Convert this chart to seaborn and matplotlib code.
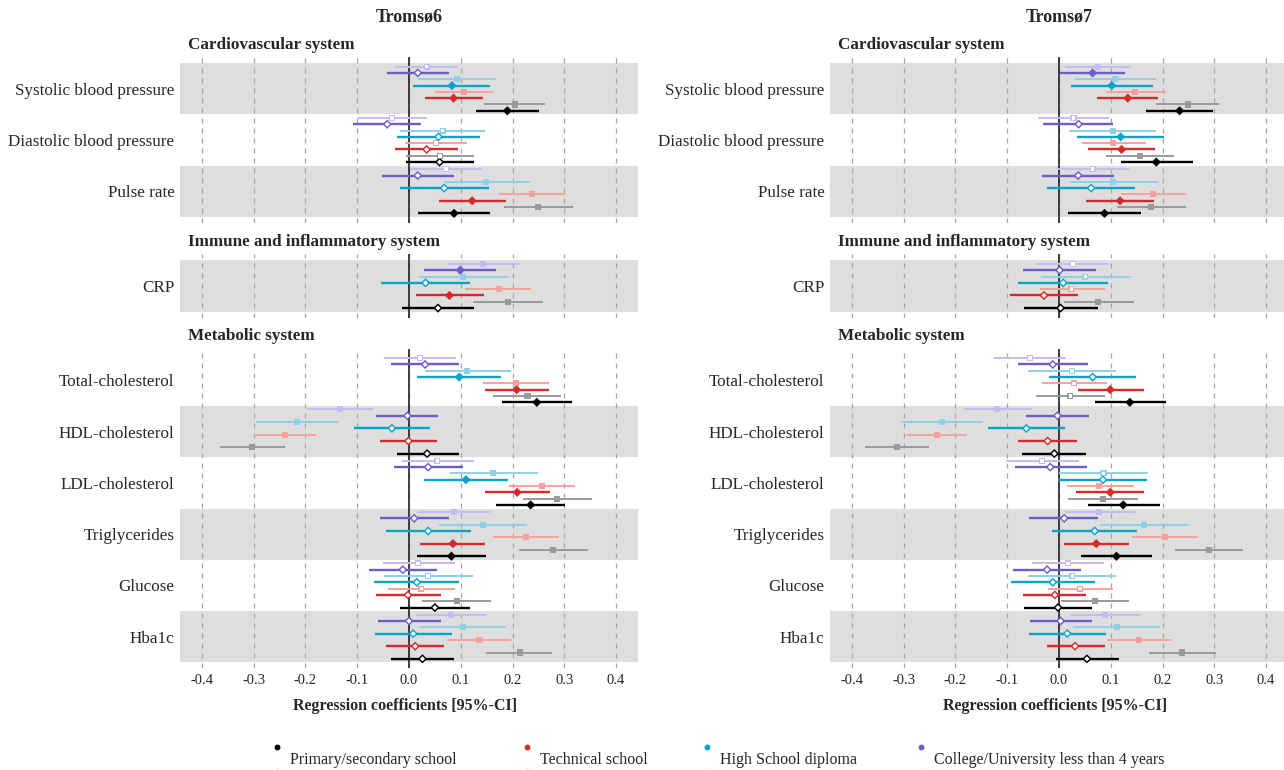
import numpy as np
import pandas as pd
import matplotlib
matplotlib.use("Agg")
import matplotlib.pyplot as plt
import seaborn as sns

# =========================
# Data
# =========================
outcomes = ["Systolic blood pressure", "Diastolic blood pressure", "Pulse rate",
            "CRP",
            "Total-cholesterol", "HDL-cholesterol", "LDL-cholesterol",
            "Triglycerides", "Glucose", "Hba1c"]
sections = [("Cardiovascular system", outcomes[0:3]),
            ("Immune and inflammatory system", outcomes[3:4]),
            ("Metabolic system", outcomes[4:10])]
education = ["Primary/secondary school", "Technical school",
             "High School diploma", "College/University less than 4 years"]
series = ["black", "gray", "red", "pink", "teal", "lightblue", "purple", "lavender"]

# --- Tromsø6 ---
t6_black_est = [0.190, 0.059, 0.087, 0.056, 0.247, 0.035, 0.235, 0.082, 0.050, 0.026]
t6_black_lo = [0.130, -0.006, 0.018, -0.014, 0.180, -0.024, 0.168, 0.015, -0.017, -0.034]
t6_black_hi = [0.251, 0.125, 0.157, 0.126, 0.315, 0.096, 0.302, 0.149, 0.117, 0.087]
t6_black_sig = [1, 0, 1, 0, 1, 0, 1, 1, 0, 0]

t6_gray_est = [0.204, 0.060, 0.250, 0.191, 0.229, -0.303, 0.286, 0.278, 0.092, 0.214]
t6_gray_lo = [0.145, -0.005, 0.183, 0.123, 0.163, -0.365, 0.220, 0.212, 0.026, 0.149]
t6_gray_hi = [0.263, 0.125, 0.317, 0.258, 0.294, -0.240, 0.354, 0.345, 0.158, 0.277]
t6_gray_sig = [1, 0, 1, 1, 1, 1, 1, 1, 1, 1]

t6_red_est = [0.086, 0.034, 0.122, 0.078, 0.208, -0.001, 0.209, 0.085, -0.002, 0.012]
t6_red_lo = [0.030, -0.027, 0.058, 0.013, 0.146, -0.057, 0.147, 0.022, -0.063, -0.045]
t6_red_hi = [0.143, 0.095, 0.187, 0.144, 0.271, 0.055, 0.272, 0.147, 0.061, 0.068]
t6_red_sig = [1, 0, 1, 1, 1, 0, 1, 1, 0, 0]

t6_pink_est = [0.106, 0.052, 0.237, 0.173, 0.206, -0.239, 0.257, 0.226, 0.024, 0.135]
t6_pink_lo = [0.050, -0.008, 0.173, 0.108, 0.143, -0.299, 0.194, 0.163, -0.041, 0.074]
t6_pink_hi = [0.163, 0.113, 0.302, 0.236, 0.270, -0.180, 0.321, 0.290, 0.088, 0.197]
t6_pink_sig = [1, 0, 1, 1, 1, 1, 1, 1, 0, 1]

t6_teal_est = [0.083, 0.057, 0.068, 0.032, 0.097, -0.033, 0.110, 0.037, 0.015, 0.008]
t6_teal_lo = [0.008, -0.024, -0.017, -0.054, 0.016, -0.106, 0.029, -0.045, -0.067, -0.066]
t6_teal_hi = [0.157, 0.137, 0.154, 0.118, 0.178, 0.041, 0.192, 0.119, 0.097, 0.083]
t6_teal_sig = [1, 0, 0, 0, 1, 0, 1, 0, 0, 0]

t6_lightblue_est = [0.092, 0.065, 0.148, 0.105, 0.112, -0.216, 0.163, 0.143, 0.037, 0.105]
t6_lightblue_lo = [0.018, -0.017, 0.068, 0.019, 0.030, -0.296, 0.079, 0.058, -0.048, 0.021]
t6_lightblue_hi = [0.168, 0.146, 0.234, 0.192, 0.197, -0.135, 0.249, 0.228, 0.123, 0.188]
t6_lightblue_sig = [1, 0, 1, 1, 1, 1, 1, 1, 0, 1]

t6_purple_est = [0.017, -0.042, 0.017, 0.099, 0.031, -0.003, 0.037, 0.010, -0.012, 0.000]
t6_purple_lo = [-0.042, -0.108, -0.052, 0.029, -0.035, -0.063, -0.029, -0.056, -0.077, -0.060]
t6_purple_hi = [0.078, 0.023, 0.086, 0.168, 0.096, 0.057, 0.104, 0.077, 0.054, 0.061]
t6_purple_sig = [0, 0, 0, 1, 0, 0, 0, 0, 0, 0]

t6_lavender_est = [0.034, -0.033, 0.071, 0.143, 0.021, -0.134, 0.055, 0.087, 0.018, 0.081]
t6_lavender_lo = [-0.027, -0.099, 0.002, 0.073, -0.048, -0.198, -0.014, 0.018, -0.051, 0.014]
t6_lavender_hi = [0.095, 0.034, 0.141, 0.214, 0.091, -0.069, 0.126, 0.157, 0.088, 0.148]
t6_lavender_sig = [0, 0, 0, 1, 0, 1, 0, 1, 0, 1]

# --- Tromsø7 ---
t7_black_est = [0.233, 0.188, 0.088, 0.003, 0.137, -0.009, 0.124, 0.111, -0.002, 0.054]
t7_black_lo = [0.169, 0.119, 0.018, -0.068, 0.069, -0.071, 0.056, 0.043, -0.068, -0.005]
t7_black_hi = [0.298, 0.258, 0.158, 0.075, 0.206, 0.053, 0.195, 0.179, 0.064, 0.115]
t7_black_sig = [1, 1, 1, 0, 1, 0, 1, 1, 0, 0]

t7_gray_est = [0.249, 0.156, 0.178, 0.076, 0.022, -0.313, 0.085, 0.290, 0.070, 0.237]
t7_gray_lo = [0.188, 0.091, 0.113, 0.010, -0.044, -0.375, 0.018, 0.224, 0.004, 0.173]
t7_gray_hi = [0.309, 0.222, 0.246, 0.144, 0.088, -0.251, 0.152, 0.356, 0.136, 0.303]
t7_gray_sig = [1, 1, 1, 1, 0, 1, 1, 1, 1, 1]

t7_red_est = [0.133, 0.121, 0.118, -0.029, 0.099, -0.022, 0.099, 0.072, -0.008, 0.031]
t7_red_lo = [0.073, 0.057, 0.052, -0.095, 0.037, -0.080, 0.033, 0.010, -0.069, -0.024]
t7_red_hi = [0.192, 0.185, 0.184, 0.037, 0.164, 0.035, 0.164, 0.136, 0.053, 0.088]
t7_red_sig = [1, 1, 1, 0, 1, 0, 1, 1, 0, 0]

t7_pink_est = [0.147, 0.105, 0.182, 0.024, 0.029, -0.236, 0.078, 0.205, 0.041, 0.154]
t7_pink_lo = [0.090, 0.044, 0.119, -0.037, -0.033, -0.295, 0.015, 0.142, -0.021, 0.092]
t7_pink_hi = [0.206, 0.168, 0.246, 0.088, 0.092, -0.177, 0.144, 0.268, 0.104, 0.216]
t7_pink_sig = [1, 1, 1, 0, 0, 1, 1, 1, 0, 1]

t7_teal_est = [0.102, 0.119, 0.062, 0.008, 0.065, -0.063, 0.085, 0.069, -0.012, 0.016]
t7_teal_lo = [0.024, 0.035, -0.024, -0.079, -0.019, -0.138, -0.001, -0.013, -0.093, -0.058]
t7_teal_hi = [0.181, 0.203, 0.147, 0.095, 0.149, 0.012, 0.170, 0.151, 0.069, 0.090]
t7_teal_sig = [1, 1, 0, 0, 0, 0, 0, 0, 0, 0]

t7_lightblue_est = [0.108, 0.104, 0.105, 0.051, 0.025, -0.226, 0.086, 0.164, 0.026, 0.112]
t7_lightblue_lo = [0.030, 0.019, 0.021, -0.034, -0.060, -0.306, 0.000, 0.079, -0.060, 0.028]
t7_lightblue_hi = [0.187, 0.187, 0.192, 0.139, 0.110, -0.146, 0.172, 0.250, 0.110, 0.196]
t7_lightblue_sig = [1, 1, 1, 0, 0, 1, 0, 1, 0, 1]

t7_purple_est = [0.065, 0.038, 0.037, 0.001, -0.012, -0.003, -0.017, 0.010, -0.023, 0.003]
t7_purple_lo = [0.001, -0.031, -0.033, -0.069, -0.080, -0.063, -0.085, -0.058, -0.088, -0.056]
t7_purple_hi = [0.128, 0.105, 0.107, 0.072, 0.056, 0.058, 0.054, 0.076, 0.043, 0.063]
t7_purple_sig = [1, 0, 0, 0, 0, 0, 0, 0, 0, 0]

t7_lavender_est = [0.075, 0.028, 0.065, 0.027, -0.056, -0.119, -0.033, 0.078, 0.017, 0.088]
t7_lavender_lo = [0.012, -0.040, -0.003, -0.044, -0.126, -0.183, -0.102, 0.012, -0.053, 0.021]
t7_lavender_hi = [0.139, 0.096, 0.136, 0.097, 0.013, -0.053, 0.038, 0.147, 0.086, 0.156]
t7_lavender_sig = [1, 0, 0, 0, 0, 1, 0, 1, 0, 1]

# =========================
# Style
# =========================
colors = {"black": "#000000", "gray": "#9a9a9a", "red": "#d42a2a", "pink": "#f7a19c",
          "teal": "#0aa3c9", "lightblue": "#8fd0e8", "purple": "#6b5ec6",
          "lavender": "#c7b9f2"}
dark = ["black", "red", "teal", "purple"]
light = ["gray", "pink", "lightblue", "lavender"]
markers = {s: ("D" if s in dark else "s") for s in series}
# offsets inside a row: black at the bottom, lavender on top (y axis inverted)
offset = {s: (i - 3.5) * 0.123 for i, s in enumerate(series)}

sns.set_style("white")
plt.rcParams["font.family"] = ["Liberation Serif", "DejaVu Serif"]

# build long table
rows = []
g = globals()
for panel in ["t6", "t7"]:
    for s in series:
        est = g[f"{panel}_{s}_est"]
        lo = g[f"{panel}_{s}_lo"]
        hi = g[f"{panel}_{s}_hi"]
        sig = g[f"{panel}_{s}_sig"]
        for i, o in enumerate(outcomes):
            rows.append(dict(panel=panel, outcome=o, series=s, est=est[i],
                             lo=lo[i], hi=hi[i], sig=sig[i]))
df = pd.DataFrame(rows)

W, H = 1284, 770
fig = plt.figure(figsize=(W / 100, H / 100), dpi=100)

ROW_PX = 51.3
panel_left = {"t6": 180, "t7": 830}
panel_title = {"t6": "Tromsø6", "t7": "Tromsø7"}
sec_px = [(57, 223), (254, 318), (349, 668)]
sec_header_y = [45, 242, 336]
sec_band_parity = [0, 0, 1]
XLIM = (-0.4425, 0.4425)
ticks = np.round(np.arange(-0.4, 0.41, 0.1), 1)
tick_labels = [f"{abs(v):.1f}" if abs(v) < 1e-9 else f"{v:.1f}" for v in ticks]

for panel in ["t6", "t7"]:
    x0 = panel_left[panel]
    for si, (sec_name, sec_out) in enumerate(sections):
        top, bot = sec_px[si]
        ax = fig.add_axes([x0 / W, 1 - bot / H, 458 / W, (bot - top) / H])
        n = len(sec_out)
        pad = ((bot - top) / ROW_PX - n) / 2
        ax.set_ylim(n - 0.5 + pad, -0.5 - pad)
        ax.set_xlim(*XLIM)
        for r in range(n):
            if r % 2 == sec_band_parity[si]:
                ax.axhspan(r - 0.5, r + 0.5, color="#dedede", lw=0, zorder=0)
        for xv in ticks:
            ax.axvline(xv, color="#a5a5a5", lw=0.9, ls=(0, (4, 4)), zorder=1)
        ax.axvline(0, color="#222222", lw=1.2, zorder=2)

        sub = df[(df.panel == panel) & (df.outcome.isin(sec_out))].copy()
        sub["row"] = sub.outcome.map({o: i for i, o in enumerate(sec_out)})
        sub["y"] = sub.row - sub.series.map(offset)

        for s in series:
            d = sub[sub.series == s]
            ax.hlines(d.y, d.lo, d.hi, colors=colors[s],
                      lw=1.7 if s in dark else 1.4, zorder=3)
        # points
        sns.scatterplot(data=sub, x="est", y="y", hue="series", palette=colors,
                        style="series", markers=markers,
                        size="series", sizes={s: (22 if s in dark else 19) for s in series},
                        linewidth=0, legend=False, ax=ax, zorder=4)
        op = sub[sub.sig == 0]
        if len(op):
            sns.scatterplot(data=op, x="est", y="y", hue="series", palette=colors,
                            style="series", markers=markers,
                            size="series", sizes={s: (7 if s in dark else 7) for s in series},
                            linewidth=0, legend=False, ax=ax, zorder=5)
            coll = ax.collections[-1]
            coll.set_facecolors("white")

        ax.set_yticks(range(n))
        ax.set_yticklabels(sec_out, fontsize=12.3)
        ax.tick_params(axis="y", length=0, pad=4)
        ax.set_xticks(ticks)
        if si == 2:
            ax.set_xticklabels(tick_labels, fontsize=10.5)
            ax.tick_params(axis="x", length=0, pad=4)
        else:
            ax.tick_params(axis="x", length=0, labelbottom=False)
        ax.set_xlabel("")
        ax.set_ylabel("")
        for sp in ax.spines.values():
            sp.set_visible(False)

        fig.text((x0 + 8) / W, 1 - sec_header_y[si] / H, sec_name,
                 fontsize=12.3, fontweight="bold", ha="left", va="center")

    fig.text((x0 + 229) / W, 1 - 17 / H, panel_title[panel], fontsize=13,
             fontweight="bold", ha="center", va="center")
    fig.text((x0 + 225) / W, 1 - 706 / H, "Regression coefficients [95%-CI]",
             fontsize=11.5, fontweight="bold", ha="center", va="center")

# =========================
# Legend (dark key above, light key below, label between)
# =========================
lax = fig.add_axes([0, 0, 1, 45 / H])
lax.set_xlim(0, W)
lax.set_ylim(H, H - 45)
lax.axis("off")
leg_x = [277, 527, 707, 921]
for i, lab in enumerate(education):
    lax.plot(leg_x[i], 747, "o", color=colors[dark[i]], ms=3.2, clip_on=False)
    lax.plot(leg_x[i], 772, "o", color=colors[light[i]], ms=3.2, clip_on=False)
    lax.text(leg_x[i] + 13, 760, lab, fontsize=11.5, ha="left", va="center")

plt.savefig("out.png", dpi=100)
